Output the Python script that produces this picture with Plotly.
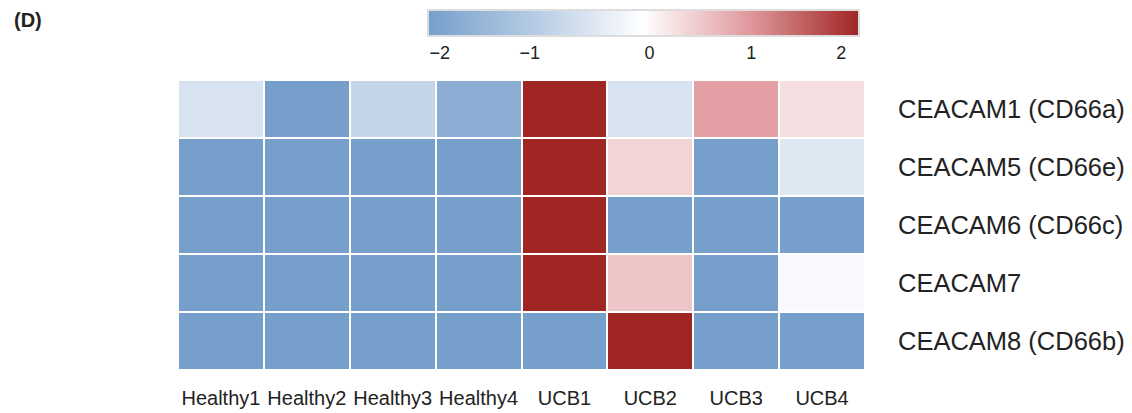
import plotly.graph_objects as go

samples = ["Healthy1", "Healthy2", "Healthy3", "Healthy4", "UCB1", "UCB2", "UCB3", "UCB4"]
genes = ["CEACAM1 (CD66a)", "CEACAM5 (CD66e)", "CEACAM6 (CD66c)", "CEACAM7", "CEACAM8 (CD66b)"]

ceacam1 = [-0.6, -2.2, -0.9, -1.85, 2.2, -0.6, 1.0, 0.35]
ceacam5 = [-2.2, -2.2, -2.2, -2.2, 2.2, 0.45, -2.2, -0.5]
ceacam6 = [-2.2, -2.2, -2.2, -2.2, 2.2, -2.2, -2.2, -2.2]
ceacam7 = [-2.2, -2.2, -2.2, -2.2, 2.2, 0.6, -2.2, -0.1]
ceacam8 = [-2.2, -2.2, -2.2, -2.2, -2.2, 2.2, -2.2, -2.2]

z = [ceacam1, ceacam5, ceacam6, ceacam7, ceacam8]

# colour bar tick labels and where they sit on the (non-uniform) reference bar
cbar_ticktext = ["\u22122", "\u22121", "0", "1", "2"]
cbar_tickvals = [-2.08, -1.16, 0.06, 1.10, 2.02]

colorscale = [
    [0.0, "#769fcb"],
    [0.25, "#b7cce5"],
    [0.5, "#ffffff"],
    [0.75, "#df979b"],
    [1.0, "#9f2623"],
]

W, H = 1132, 413
L, R, T, B = 178, 1132 - 865, 80, 413 - 370
plot_h = H - T - B
plot_w = W - L - R

fig = go.Figure(go.Heatmap(
    z=z, x=samples, y=genes,
    colorscale=colorscale, zmin=-2.2, zmax=2.2,
    xgap=2, ygap=2,
    colorbar=dict(
        orientation="h",
        xanchor="center", x=((428 + 859) / 2 - L) / plot_w,
        yanchor="top", y=(H - B - 10) / plot_h,
        len=(859 - 428) / plot_w, lenmode="fraction",
        thickness=26, thicknessmode="pixels",
        outlinecolor="#dddddd", outlinewidth=2,
        tickvals=cbar_tickvals, ticktext=cbar_ticktext,
        ticks="", tickfont=dict(size=18, color="#222", family="Liberation Sans, Arial"),
        ypad=0, xpad=0,
    ),
))

fig.update_layout(
    width=W, height=H,
    margin=dict(l=L, r=R, t=T, b=B, autoexpand=False),
    plot_bgcolor="white", paper_bgcolor="white",
    font=dict(family="Liberation Sans, Arial", color="#222"),
    annotations=[dict(text="<b>(D)</b>", xref="paper", yref="paper",
                      x=-(L - 12) / plot_w, y=(H - B - 20) / plot_h,
                      xanchor="left", yanchor="middle", showarrow=False,
                      font=dict(size=20, color="#222"))],
)
fig.update_xaxes(showgrid=False, zeroline=False, ticks="", tickfont=dict(size=20),
                 tickangle=0, ticklabelstandoff=14, automargin=False)
fig.update_yaxes(side="right", autorange="reversed", showgrid=False, zeroline=False,
                 ticks="", tickfont=dict(size=25.5), ticklabelstandoff=32, automargin=False)

fig.write_html("out.html", config={"displayModeBar": False},
               post_script="document.body.style.margin='0';document.body.style.overflow='hidden';")
